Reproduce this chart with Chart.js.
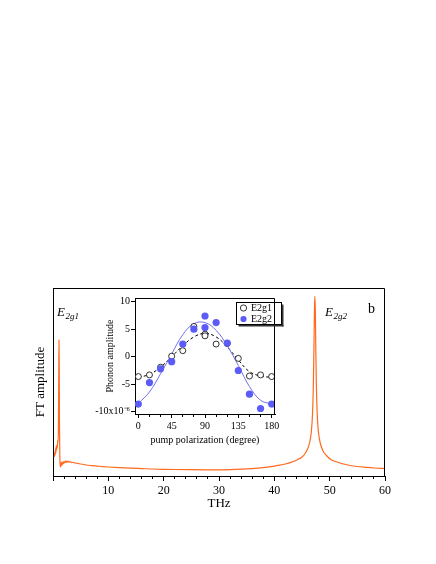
<!DOCTYPE html>
<html><head><meta charset="utf-8">
<script src="https://cdn.jsdelivr.net/npm/chart.js@4/dist/chart.umd.min.js"></script>
<style>
html,body{margin:0;padding:0;background:#fff;}
#wrap{position:relative;width:436px;height:564px;}
canvas{position:absolute;left:0;top:0;}
</style></head><body>
<div id="wrap"><canvas id="main" width="436" height="564"></canvas><canvas id="inset" width="436" height="564"></canvas></div>
<script>
// ---- main spectrum (FT amplitude, arbitrary units) ----
const freqTHz = [0.25,0.32,0.38,0.45,0.52,0.58,0.65,0.72,0.78,0.85,0.92,0.98,1.03,1.08,1.12,1.17,1.22,1.28,1.34,1.40,1.48,1.56,1.65,1.75,1.85,1.95,2.1,2.25,2.4,2.55,2.7,2.85,3.0,3.2,3.4,3.7,4.0,4.5,5.0,6.0,7.0,8.0,9.0,10,12,14,16,18,20,22,25,28,30,32,34,36,38,40,41,42,43,44,45,45.5,46,46.4,46.7,46.9,47.05,47.15,47.25,47.32,47.4,47.5,47.6,47.75,47.95,48.3,48.8,49.5,50.2,51.3,52.5,53.7,55,56.5,58,60];
const ftAmp = [19,24,21,27,23,30,26,31,28,36,34,48,95,136,110,55,24,12,9,13,10,14,11,14,12,14.5,13,15,13.5,15,13.8,14.8,13.8,14.2,13.4,13.6,13,12.6,12,11,10.4,9.9,9.4,9,8.3,7.8,7.4,7,6.7,6.5,6.3,6.2,6.2,6.4,6.8,7.4,8.4,9.8,10.8,12,13.6,15.8,19,22,27,34,45,62,90,125,165,180,168,125,90,62,45,33,25,20,16.5,14,12,10.5,9.5,8.7,8,7.5];
const mainXTickLabels = [10,20,30,40,50,60];

// ---- inset: phonon amplitude vs pump polarization ----
const polAngle = [0,15,30,45,60,75,90,90,105,120,135,150,165,180];
const e2g1Amp = [-3.6,-3.3,-1.9,0.1,1.1,5.5,4.1,3.8,2.3,2.4,-0.3,-3.5,-3.3,-3.6];
const e2g2Amp = [-8.6,-4.7,-2.2,-0.9,2.3,5.0,7.4,5.3,6.2,2.5,-2.5,-6.8,-9.4,-8.6];
const fitAngle = [0,15,30,45,60,75,90,105,120,135,150,165,180];
const e2g1Fit = [-3.75,-3.2,-1.9,0.0,2.0,3.6,4.25,3.6,1.8,-0.6,-2.7,-3.5,-3.75];
const e2g2Fit = [-8.5,-6.4,-3.1,0.5,4.0,6.0,6.2,4.8,2.0,-1.6,-5.4,-7.9,-8.6];
const insetXTickLabels = [0,45,90,135,180];
const insetYTickLabels = [-10,-5,0,5,10];

const serif = "'Liberation Serif','Times New Roman',Times,serif";
const orange = '#ff6a1f';
const blue = '#5b5bf7';
const blueLine = '#6f6ff2';

const toXY = (xs, ys) => xs.map((x, i) => ({x: x, y: ys[i]}));

const framePlugin = {
  id: 'frame',
  afterDraw(chart, args, opts) {
    const {ctx, chartArea: a} = chart;
    ctx.save();
    ctx.strokeStyle = '#000';
    ctx.lineWidth = 1;
    ctx.beginPath();
    const t = Math.round(a.top) + 0.5, r = Math.round(a.right) - 0.5;
    ctx.moveTo(a.left, t); ctx.lineTo(r, t); ctx.lineTo(r, a.bottom);
    ctx.stroke();
    ctx.restore();
  }
};

const peakLabelPlugin = {
  id: 'peakLabels',
  afterDraw(chart) {
    const {ctx, chartArea: a} = chart;
    ctx.save();
    ctx.fillStyle = '#000';
    ctx.textBaseline = 'alphabetic';
    ctx.textAlign = 'left';
    const drawE = (x, y, sub) => {
      ctx.font = 'italic 13px ' + serif;
      ctx.fillText('E', x, y);
      const w = ctx.measureText('E').width;
      ctx.font = 'italic 9px ' + serif;
      ctx.fillText(sub, x + w + 0.5, y + 3);
    };
    drawE(a.left + 4, a.top + 28, '2g1');
    drawE(a.left + 272, a.top + 28, '2g2');
    ctx.font = '14px ' + serif;
    ctx.fillText('b', a.left + 315, a.top + 25);
    ctx.restore();
  }
};

new Chart(document.getElementById('main'), {
  type: 'line',
  data: {
    datasets: [{
      data: toXY(freqTHz, ftAmp),
      borderColor: orange,
      borderWidth: 1.2,
      pointRadius: 0,
      fill: false,
      cubicInterpolationMode: 'monotone',
      xAxisID: 'x', yAxisID: 'y'
    }]
  },
  options: {
    responsive: false, animation: false, events: [],
    layout: {padding: {left: 33, right: 51, top: 288, bottom: 52.7}},
    plugins: {legend: {display: false}, tooltip: {enabled: false}},
    scales: {
      xMinor: {
        type: 'linear', position: 'bottom', min: 0, max: 60,
        ticks: {stepSize: 2, display: false},
        grid: {drawOnChartArea: false, drawTicks: true, tickLength: 3, color: '#000'},
        border: {display: false},
        afterFit: s => { s.height = 0; }
      },
      x: {
        type: 'linear', position: 'bottom', min: 0, max: 60,
        ticks: {stepSize: 10, autoSkip: false, maxRotation: 0, color: '#000', padding: 3,
          font: {family: serif, size: 12},
          callback: v => mainXTickLabels.includes(v) ? String(v) : ''},
        grid: {drawOnChartArea: false, drawTicks: true, tickLength: 5, color: '#000'},
        border: {display: true, color: '#000', width: 1},
        title: {display: true, text: 'THz', color: '#000', font: {family: serif, size: 13}, padding: 0},
        afterFit: s => { s.height = 35.3; }
      },
      y: {
        type: 'linear', position: 'left', min: 0, max: 188,
        ticks: {display: false},
        grid: {display: false},
        border: {display: true, color: '#000', width: 1},
        title: {display: true, text: 'FT amplitude', color: '#000', font: {family: serif, size: 13}, padding: 0},
        afterFit: s => { s.width = 20; }
      }
    }
  },
  plugins: [framePlugin, peakLabelPlugin]
});

const legendPlacePlugin = {
  id: 'legendPlace',
  afterLayout(chart) {
    const lg = chart.legend, a = chart.chartArea;
    if (!lg) return;
    lg.left = a.right - 35;
    lg.top = a.top + 4;
    lg.right = a.right + 30;
    lg.bottom = a.bottom;
  },
  afterDraw(chart) {
    const lg = chart.legend, ctx = chart.ctx;
    const x = Math.round(lg.left - 4) + 0.5, y = Math.round(lg.top) + 0.5, w = 45, h = 22;
    ctx.save();
    ctx.strokeStyle = '#000';
    ctx.lineWidth = 1;
    ctx.strokeRect(x, y, w, h);
    ctx.fillStyle = '#333';
    ctx.fillRect(x + w + 0.5, y + 2, 1.5, h);
    ctx.fillRect(x + 2, y + h + 0.5, w, 1.5);
    ctx.restore();
  }
};

new Chart(document.getElementById('inset'), {
  type: 'scatter',
  data: {
    datasets: [
      {label: 'E2g1', data: toXY(polAngle, e2g1Amp), order: 2, showLine: false,
        pointStyle: 'circle', pointRadius: 3, pointBorderWidth: 0.8,
        pointBackgroundColor: '#fff', pointBorderColor: '#000',
        backgroundColor: '#fff', borderColor: '#000'},
      {label: 'E2g2', data: toXY(polAngle, e2g2Amp), order: 1, showLine: false,
        pointStyle: 'circle', pointRadius: 3.6, pointBorderWidth: 0,
        pointBackgroundColor: blue, pointBorderColor: blue,
        backgroundColor: blue, borderColor: blue},
      {label: 'E2g1 fit', type: 'line', data: toXY(fitAngle, e2g1Fit), order: 4,
        borderColor: '#000', borderWidth: 1, borderDash: [3, 2.5], pointRadius: 0, tension: 0.4, fill: false},
      {label: 'E2g2 fit', type: 'line', data: toXY(fitAngle, e2g2Fit), order: 3,
        borderColor: blueLine, borderWidth: 1, pointRadius: 0, tension: 0.4, fill: false}
    ]
  },
  options: {
    responsive: false, animation: false, events: [],
    layout: {padding: {left: 88, right: 161, top: 298, bottom: 118}},
    plugins: {
      tooltip: {enabled: false},
      legend: {
        display: true, position: 'chartArea', align: 'start',
        labels: {
          usePointStyle: true, boxWidth: 5, boxHeight: 4.4, padding: 1,
          color: '#000', font: {family: serif, size: 10},
          filter: item => !item.text.includes('fit'),
          sort: (a, b) => a.datasetIndex - b.datasetIndex
        }
      }
    },
    scales: {
      xMinor: {
        type: 'linear', position: 'bottom', min: -4.5, max: 184.5,
        ticks: {stepSize: 15, display: false, includeBounds: false},
        grid: {drawOnChartArea: false, drawTicks: true, tickLength: 3, color: '#000'},
        border: {display: false},
        afterFit: s => { s.height = 0; }
      },
      x: {
        type: 'linear', position: 'bottom', min: -4.5, max: 184.5,
        ticks: {stepSize: 45, includeBounds: false, autoSkip: false, maxRotation: 0, color: '#000', padding: 2,
          font: {family: serif, size: 10},
          callback: v => insetXTickLabels.includes(v) ? String(v) : ''},
        grid: {drawOnChartArea: false, drawTicks: true, tickLength: 4, color: '#000'},
        border: {display: true, color: '#000', width: 1},
        title: {display: true, text: 'pump polarization (degree)', color: '#000', font: {family: serif, size: 10}, padding: 0},
        afterFit: s => { s.height = 32; }
      },
      y: {
        type: 'linear', position: 'left', min: -10.4, max: 10.67,
        ticks: {stepSize: 5, includeBounds: false, autoSkip: false, color: '#000', padding: 1,
          font: {family: serif, size: 10},
          callback: v => insetYTickLabels.includes(v) ? (v === -10 ? '-10x10\u207B\u2076' : String(v)) : ''},
        grid: {drawOnChartArea: false, drawTicks: true, tickLength: 4, color: '#000'},
        border: {display: true, color: '#000', width: 1},
        title: {display: true, text: 'Phonon amplitude', color: '#000', font: {family: serif, size: 10}, padding: {top: 16, bottom: 0}},
        afterFit: s => { s.width = 47; }
      }
    }
  },
  plugins: [framePlugin, legendPlacePlugin]
});
</script>
</body></html>
